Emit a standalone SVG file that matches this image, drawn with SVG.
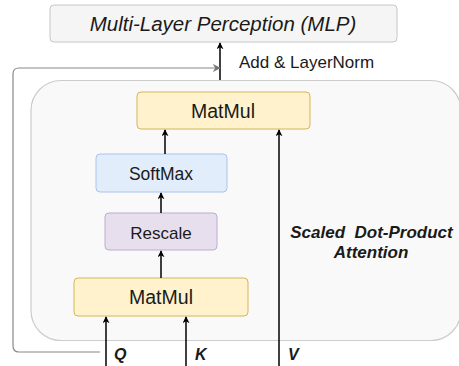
<svg xmlns="http://www.w3.org/2000/svg" width="459" height="366" viewBox="0 0 459 366">
<style>
text{font-family:"Liberation Sans",Arial,sans-serif;fill:#1a1a1a;text-anchor:middle}
.c{stroke:#000;stroke-width:1.5;fill:none}
.mm{fill:#fff2cc;stroke:#d6b656}
.bi{font-weight:bold;font-style:italic}
</style>
<defs>
<marker id="a" viewBox="0 0 10 10" refX="9" refY="5" markerWidth="7" markerHeight="7" orient="auto" markerUnits="userSpaceOnUse"><path d="M0,0 L10,5 L0,10 L3,5 Z" fill="#000"/></marker>
<marker id="g" viewBox="0 0 10 10" refX="9" refY="5" markerWidth="8" markerHeight="8" orient="auto" markerUnits="userSpaceOnUse"><path d="M0,0 L10,5 L0,10 L3,5 Z" fill="#777"/></marker>
</defs>
<g id="container"><rect x="31" y="80.5" width="430" height="260" rx="30" fill="#f9f9f9" stroke="#cccccc" stroke-width="1.2"/></g>
<g id="mlp"><rect x="50" y="5" width="347" height="37" rx="4" fill="#f5f5f5" stroke="#c6c6c6"/><text x="223" y="31" font-size="20.5" font-style="italic">Multi-Layer Perception (MLP)</text></g>
<g id="matmul-top"><rect class="mm" x="137" y="92" width="173" height="37" rx="4"/><text x="223" y="118" font-size="19.5">MatMul</text></g>
<g id="softmax"><rect x="96" y="154" width="131" height="38" rx="4" fill="#e2edfc" stroke="#a9c4ea"/><text x="161" y="180" font-size="17.5">SoftMax</text></g>
<g id="rescale"><rect x="105" y="213" width="112" height="37" rx="4" fill="#e8dfee" stroke="#c1a9d0"/><text x="161" y="239" font-size="17">Rescale</text></g>
<g id="matmul-bottom"><rect class="mm" x="74" y="278" width="174" height="38" rx="4"/><text x="161" y="304" font-size="19.5">MatMul</text></g>
<g id="sdpa-label"><text class="bi" x="371.5" y="238" font-size="17" xml:space="preserve">Scaled  Dot-Product</text><text class="bi" x="371" y="258" font-size="17">Attention</text></g>
<g id="connectors">
<path class="c" d="M220,80 V43" marker-end="url(#a)"/>
<path d="M100,352 H19 Q13,352 13,346 V74 Q13,68 19,68 H220" fill="none" stroke="#888" stroke-width="1.2" marker-end="url(#g)"/>
<path class="c" d="M165,154 V130" marker-end="url(#a)"/>
<path class="c" d="M161,213 V193" marker-end="url(#a)"/>
<path class="c" d="M161,278 V251" marker-end="url(#a)"/>
<path class="c" d="M279,366 V130" marker-end="url(#a)"/>
<path class="c" d="M106,366 V317" marker-end="url(#a)"/>
<path class="c" d="M186,366 V317" marker-end="url(#a)"/>
</g>
<g id="labels">
<text x="239" y="68" font-size="17" style="text-anchor:start">Add &amp; LayerNorm</text>
<text class="bi" x="114" y="360" font-size="16" style="text-anchor:start">Q</text>
<text class="bi" x="195" y="360" font-size="16" style="text-anchor:start">K</text>
<text class="bi" x="288" y="360" font-size="16" style="text-anchor:start">V</text>
</g>
</svg>
